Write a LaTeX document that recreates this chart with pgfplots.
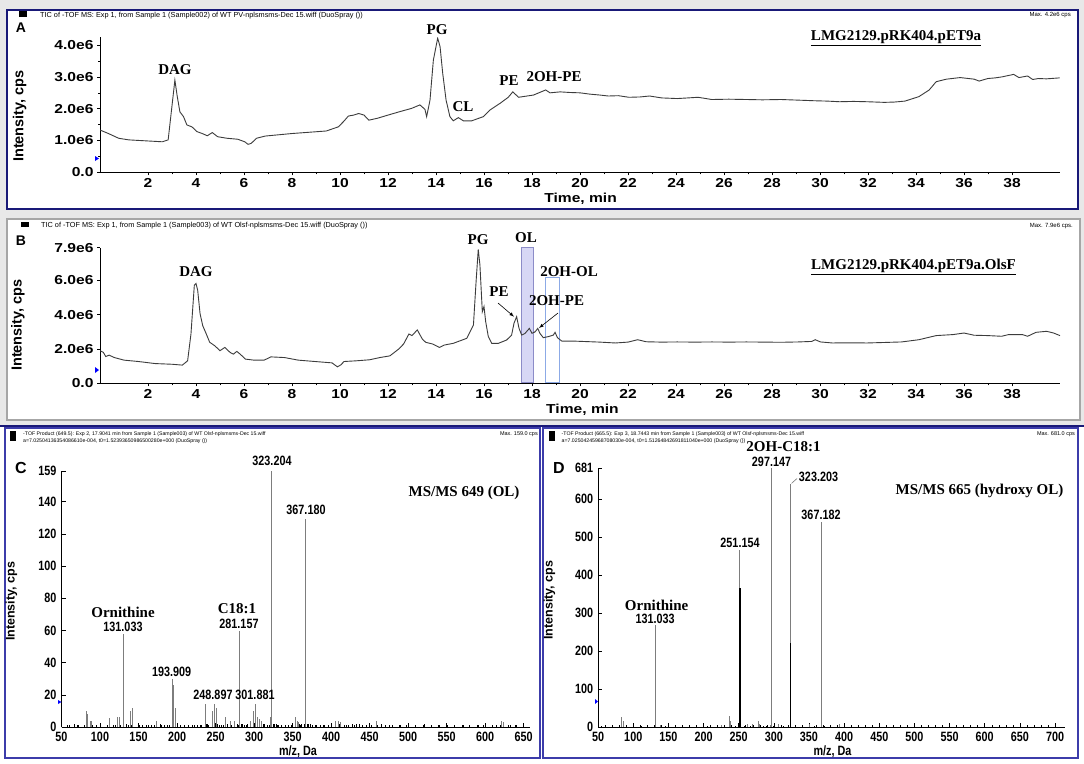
\documentclass[border=0pt]{standalone}
\usepackage{pgfplots}
\pgfplotsset{compat=1.18}
\usepackage{fontspec}
\setmainfont{Liberation Sans}
\newfontfamily\sansw{Liberation Sans}[FakeStretch=1.2]
\newfontfamily\sansn{Liberation Sans}[FakeStretch=0.8]
\newfontfamily\serif{Liberation Serif}

\definecolor{navy}{RGB}{25,25,120}
\definecolor{frameblue}{RGB}{60,60,170}
\definecolor{trace}{RGB}{60,60,60}
\definecolor{stick}{RGB}{125,125,125}
\definecolor{olfill}{RGB}{215,215,245}
\definecolor{olline}{RGB}{140,140,200}
\definecolor{ohline}{RGB}{140,170,230}
\definecolor{chrome}{RGB}{232,232,232}

\newcommand\fAB{\sansw\bfseries\fontsize{13}{13}\selectfont}
\newcommand\fCD{\sansn\bfseries\fontsize{13.5}{13.5}\selectfont}
\newcommand\fYL[1]{\bfseries\fontsize{#1}{#1}\selectfont}
\newcommand\fTB{\serif\bfseries\fontsize{15}{15}\selectfont}
\newcommand\fHd[1]{\fontsize{#1}{#1}\selectfont}

\pgfplotsset{
  chrom/.style={scale only axis, width=960pt, xmin=0, xmax=40,
    axis x line*=bottom, axis y line*=left,
    axis line style={black, line width=1pt},
    tick align=outside, major tick length=3pt, minor tick length=2pt,
    tick style={black, line width=0.6pt},
    xtick={2,4,...,38}, minor x tick num=1, minor y tick num=1,
    tick label style={font=\fAB},
    /pgf/number format/assume math mode=true},
  spec/.style={scale only axis, xmin=50, ymin=0,
    axis x line*=bottom, axis y line*=left,
    axis line style={black, line width=0.8pt},
    tick align=inside, major tick length=4pt, minor tick length=2pt,
    tick style={black, line width=0.5pt},
    minor x tick num=4, minor y tick num=1,
    tick label style={font=\fCD},
    xticklabel style={yshift=-1.5pt},
    yticklabel style={xshift=-1.5pt},
    /pgf/number format/assume math mode=true},
}

\begin{document}
\begin{tikzpicture}
\path[use as bounding box] (0pt,0pt) rectangle (1084pt,-763pt);
% window chrome and panel frames
\fill[chrome] (0pt,0pt) rectangle (1084pt,-426pt);
\fill[white] (0pt,-426pt) rectangle (1084pt,-763pt);
\filldraw[fill=white, draw=navy, line width=2pt] (7pt,-10pt) rectangle (1078pt,-209pt);
\filldraw[fill=white, draw=gray!70, line width=1.2pt] (7pt,-219pt) rectangle (1080pt,-420pt);
\draw[navy, line width=2pt] (0pt,-426pt) -- (1084pt,-426pt);
\draw[frameblue, line width=1.2pt] (5pt,-428pt) rectangle (540pt,-758pt);
\draw[frameblue, line width=1.2pt] (543pt,-428pt) rectangle (1078pt,-758pt);

% ---------------- A ----------------
\begin{axis}[chrom, at={(100pt,-172.3pt)}, anchor=south west,
  height=135.1pt, ymin=0, ymax=4.25,
  ytick={0,1,2,3,4}, yticklabels={0.0,1.0e6,2.0e6,3.0e6,4.0e6}]
\addplot[trace, line width=0.9pt] coordinates {
(0,1.33) (0.35,1.22) (0.78,1.07) (1.2,1.02) (1.9,0.99) (2.6,0.96) (2.84,1.02)
(2.98,1.96) (3.12,2.9) (3.22,2.38) (3.33,1.9) (3.48,1.75) (3.62,1.49) (3.83,1.43)
(4.04,1.28) (4.26,1.22) (4.47,1.15) (4.68,1.25) (4.9,1.12) (5.3,1.07) (5.74,1.04)
(6.03,0.96) (6.17,0.88) (6.3,0.91) (6.52,1.07) (6.88,1.14) (7.3,1.17) (8.0,1.22)
(8.72,1.26) (9.43,1.30) (9.93,1.43) (10.14,1.59) (10.35,1.77) (10.57,1.80)
(10.78,1.85) (11.0,1.80) (11.2,1.64) (11.56,1.70) (12.0,1.80) (12.5,1.91)
(12.98,2.01) (13.33,2.12) (13.54,1.98) (13.61,1.75) (13.75,2.27) (13.89,3.53)
(14.07,4.22) (14.17,3.95) (14.28,3.11) (14.42,2.27) (14.58,1.75) (14.72,1.62)
(14.93,1.72) (15.14,1.62) (15.49,1.62) (15.97,1.75) (16.25,1.96) (16.67,2.17)
(17.01,2.36) (17.2,2.53) (17.44,2.36) (18.06,2.43) (18.57,2.59) (18.75,2.50)
(19.17,2.53) (19.6,2.51) (20.0,2.50) (20.4,2.46) (20.83,2.43) (21.18,2.40)
(21.6,2.41) (22.04,2.36) (22.5,2.37) (22.9,2.40) (23.4,2.34) (24.05,2.32)
(24.5,2.34) (24.92,2.36) (25.49,2.29) (26.2,2.30) (26.93,2.29) (27.6,2.28)
(28.37,2.29) (29.1,2.27) (29.8,2.25) (30.3,2.24) (30.81,2.22) (31.4,2.23)
(31.96,2.22) (32.68,2.20) (33.1,2.21) (33.54,2.24) (34.12,2.38) (34.55,2.59)
(34.84,2.85) (35.27,2.93) (35.84,2.98) (36.42,2.93) (36.63,2.87) (36.99,2.95)
(37.3,2.97) (37.57,3.0) (38.07,3.08) (38.29,2.98) (38.65,3.03) (38.86,2.92)
(39.1,2.95) (39.44,2.94) (39.98,2.97)};
\end{axis}

% ---------------- B ----------------
\begin{axis}[chrom, at={(100pt,-383.3pt)}, anchor=south west,
  height=135.6pt, ymin=0, ymax=7.9,
  ytick={0,2,4,6,7.9}, yticklabels={0.0,2.0e6,4.0e6,6.0e6,7.9e6}]
\fill[olfill] (axis cs:17.57,0.05) rectangle (axis cs:18.05,7.9);
\draw[olline, line width=0.8pt] (axis cs:17.57,0.05) rectangle (axis cs:18.05,7.9);
\draw[ohline, line width=1pt] (axis cs:18.57,0.02) rectangle (axis cs:19.14,6.18);
\addplot[trace, line width=0.9pt] coordinates {
(0,1.9) (0.14,1.8) (0.24,1.56) (0.38,1.64) (0.6,1.5) (1.0,1.35) (1.6,1.27)
(2.3,1.15) (3.0,1.11) (3.43,1.06) (3.65,1.31) (3.79,2.87) (3.93,5.71) (4.0,5.81)
(4.07,5.42) (4.17,4.05) (4.28,3.36) (4.43,2.87) (4.57,2.39) (4.78,2.19) (5.0,1.9)
(5.2,2.09) (5.42,1.8) (5.56,1.70) (5.7,1.86) (5.84,1.70) (6.06,1.41) (6.41,1.35)
(6.84,1.35) (7.12,1.54) (7.69,1.5) (8.26,1.35) (8.96,1.27) (9.67,1.19) (9.89,0.96)
(10.03,1.07) (10.17,1.27) (10.67,1.31) (11.23,1.37) (11.66,1.5) (12.08,1.6)
(12.44,1.99) (12.65,2.29) (12.87,2.87) (13.0,2.78) (13.22,3.11) (13.43,2.58)
(13.57,2.39) (13.86,2.29) (14.14,2.09) (14.35,2.23) (14.72,2.33) (15.28,2.62)
(15.56,3.4) (15.67,5.92) (15.76,7.8) (15.83,6.9) (15.93,4.17) (16.0,4.47)
(16.07,3.59) (16.18,2.72) (16.32,2.33) (16.6,2.33) (16.94,2.52) (17.15,2.81)
(17.25,3.5) (17.36,3.88) (17.46,3.2) (17.57,2.81) (17.71,2.91) (17.89,3.2)
(18.0,2.91) (18.13,3.0) (18.24,3.2) (18.33,2.91) (18.47,2.66) (18.68,2.72)
(18.89,2.81) (18.96,2.97) (19.06,2.66) (19.24,2.46) (19.72,2.46) (20.28,2.43)
(20.83,2.4) (21.47,2.35) (22.0,2.40) (22.4,2.54) (22.76,2.42) (23.4,2.40)
(24.05,2.41) (24.8,2.40) (25.5,2.41) (26.2,2.40) (26.93,2.41) (27.7,2.40)
(28.37,2.39) (29.1,2.41) (29.66,2.44) (29.8,2.54) (30.02,2.41) (30.52,2.35)
(31.2,2.36) (31.96,2.35) (32.7,2.38) (33.4,2.41) (34.12,2.54) (34.84,2.78)
(35.55,2.84) (36.0,2.93) (36.42,2.80) (37.0,2.78) (37.57,2.74) (37.86,2.84)
(38.43,2.84) (38.65,2.74) (39.0,2.97) (39.44,3.03) (39.73,2.93) (40.0,2.78)};
\end{axis}

% ---------------- C ----------------
\begin{axis}[spec, at={(61.5pt,-727pt)}, anchor=south west,
  width=468.2pt, height=256pt, xmax=658, ymax=159,
  xtick={50,100,...,650}, ytick={0,20,...,140,159}]
\addplot[ycomb, black, line width=0.8pt] coordinates {
(58,1) (67,2) (72,1.5) (95,1) (101,1) (118,1.5) (127,1.5) (134,2) (137,1.5) (151,1)
(155,1.5) (163,1) (167,1) (179,2) (183,1) (188,1.5) (200,2) (205,1) (210,1.5)
(215,1) (222,1) (227,1.5) (232,1) (238,2) (240,2) (252,2) (255,1.5) (258,1)
(266,2) (278,2) (283,2) (285,2) (288,1.5) (291,2) (312,2) (314,2) (317,1.5)
(322,3) (325,2) (326,2) (329,2) (332,1.5) (336,1) (341,1) (345,1.5) (349,1)
(359,2) (362,2) (365,2) (369,2) (370,2) (373,2) (376,1.5) (381,1) (386,1.5)
(392,1) (397,1) (411,2) (418,1.5) (423,1) (428,2) (433,2) (437,2) (446,1) (452,1)
(466,2) (471,1.5) (476,1) (489,1) (498,1.5) (510,1.5) (521,2) (530,1) (540,1.5)
(551,1) (560,1) (572,1.5) (580,1) (591,1.5) (598,1) (609,1) (615,1) (633,1.5)
(640,1) (650,2)};
\addplot[ycomb, stick, line width=0.9pt] coordinates {
(81.8,10) (84,8) (87,4) (89.5,4) (112,5.5) (123,6) (125,6) (140,10) (142,12)
(173,4) (195.8,26) (198.5,12) (236.4,14.6) (246,10) (251,12) (263,6) (270,4)
(275,4) (296,4) (299,10) (304,6) (307,5) (310,4) (321,6) (354,6) (356,4)
(358,3) (406,4) (409,4) (412,3) (459,4) (621.6,4) (624,3)};
\addplot[ycomb, stick, line width=1pt] coordinates {
(131.03,58) (193.9,29.6) (248.9,14) (281.16,59.6) (301.3,14.4) (323.2,159)
(367.18,129)};
\end{axis}

% ---------------- D ----------------
\begin{axis}[spec, at={(598.1pt,-727pt)}, anchor=south west,
  width=466.9pt, height=258.7pt, xmax=714.2, ymax=681,
  xtick={50,100,...,700}, ytick={0,100,...,600,681}]
\addplot[ycomb, black, line width=0.7pt] coordinates {
(55,2) (60,2) (70,1) (100,1) (112,2) (145,2) (160,1) (175,1) (190,1) (205,2)
(215,1) (245,2) (258,3) (266,2) (285,3) (290,2) (300,3) (313,2) (330,2) (340,1)
(357,2) (372,2) (380,1) (401,2) (420,1) (450,1) (470,2) (500,1) (530,1) (560,1)
(600,1) (640,1)};
\addplot[ycomb, stick, line width=0.9pt] coordinates {
(83.5,27) (85.5,16) (138,5) (225,5) (236.7,29) (238.8,16) (263,7) (270,9)
(278,16) (280,7) (295,5) (307,9) (350,7) (394,9)};
\addplot[ycomb, stick, line width=1pt] coordinates {
(131.03,268) (251.15,466) (297.15,681) (323.2,641) (367.18,540)};
\addplot[ycomb, black, line width=1.8pt] coordinates {
(251.6,365) (252.5,29) (323.6,222)};
\end{axis}

% ---------------- texts ----------------
% headers
\fill (19pt,-11pt) rectangle (27pt,-17pt);
\fill (21pt,-222pt) rectangle (29pt,-227pt);
\fill (10pt,-431pt) rectangle (16pt,-441pt);
\fill (549pt,-431pt) rectangle (555pt,-441pt);
\node[anchor=west, inner sep=0pt, font=\fHd{7.3}] at (40pt,-15.5pt)
  {TIC of -TOF MS: Exp 1, from Sample 1 (Sample002) of WT PV-nplsmsms-Dec 15.wiff (DuoSpray ())};
\node[anchor=east, inner sep=0pt, font=\fHd{6}] at (1071pt,-15.5pt) {Max. 4.2e6 cps};
\node[anchor=west, inner sep=0pt, font=\fHd{7.3}] at (41pt,-226pt)
  {TIC of -TOF MS: Exp 1, from Sample 1 (Sample003) of WT Olsf-nplsmsms-Dec 15.wiff (DuoSpray ())};
\node[anchor=east, inner sep=0pt, font=\fHd{6}] at (1073pt,-225.6pt) {Max. 7.9e6 cps.};
\node[anchor=west, inner sep=0pt, font=\fHd{5.2}] at (23pt,-434pt)
  {-TOF Product (649.5): Exp 2, 17.9041 min from Sample 1 (Sample003) of WT Olsf-nplsmsms-Dec 15.wiff};
\node[anchor=west, inner sep=0pt, font=\fHd{5.2}] at (23pt,-441pt)
  {a=7.02504136354086610e-004, t0=1.52393650986500280e+000 (DuoSpray ())};
\node[anchor=east, inner sep=0pt, font=\fHd{5.5}] at (538pt,-434pt) {Max. 159.0 cps};
\node[anchor=west, inner sep=0pt, font=\fHd{5.2}] at (561.5pt,-434pt)
  {-TOF Product (665.5): Exp 3, 18.7443 min from Sample 1 (Sample003) of WT Olsf-nplsmsms-Dec 15.wiff};
\node[anchor=west, inner sep=0pt, font=\fHd{5.2}] at (561.5pt,-441pt)
  {a=7.02504245968708030e-004, t0=1.51264842691811040e+000 (DuoSpray ())};
\node[anchor=east, inner sep=0pt, font=\fHd{5.5}] at (1075pt,-434pt) {Max. 681.0 cps};

% panel letters
\node[font=\fYL{14}] at (21pt,-28pt) {A};
\node[font=\fYL{14}] at (21pt,-241pt) {B};
\node[font=\fYL{16}] at (21pt,-468pt) {C};
\node[font=\fYL{16}] at (559pt,-468pt) {D};

% axis titles
\node[rotate=90, font=\fYL{14.5}] at (19.7pt,-116pt) {Intensity, cps};
\node[rotate=90, font=\fYL{14.5}] at (18pt,-325pt) {Intensity, cps};
\node[rotate=90, font=\fYL{12.5}] at (11.5pt,-601.5pt) {Intensity, cps};
\node[rotate=90, font=\fYL{12.5}] at (549.5pt,-600pt) {Intensity, cps};
\node[font=\fAB] at (580.6pt,-199pt) {Time, min};
\node[font=\fAB] at (582.5pt,-410pt) {Time, min};
\node[font=\fCD] at (298pt,-751.5pt) {m/z, Da};
\node[font=\fCD] at (832.5pt,-751.5pt) {m/z, Da};

% blue start markers
\fill[blue] (95pt,-156pt) -- (99pt,-158.5pt) -- (95pt,-161pt) -- cycle;
\fill[blue] (95pt,-367pt) -- (99pt,-370pt) -- (95pt,-373pt) -- cycle;
\fill[blue] (58pt,-700pt) -- (61.5pt,-702pt) -- (58pt,-704pt) -- cycle;
\fill[blue] (595pt,-699pt) -- (598pt,-701.5pt) -- (595pt,-704pt) -- cycle;

% A annotations
\node[font=\fTB] at (175pt,-70pt) {DAG};
\node[font=\fTB] at (437pt,-30pt) {PG};
\node[font=\fTB] at (463pt,-107pt) {CL};
\node[font=\fTB] at (509pt,-80.7pt) {PE};
\node[font=\fTB] at (554pt,-77pt) {2OH-PE};
\node[font=\fTB] at (896pt,-38.3pt) {\underline{LMG2129.pRK404.pET9a}};

% B annotations
\node[font=\fTB] at (196pt,-271.7pt) {DAG};
\node[font=\fTB] at (478pt,-240pt) {PG};
\node[font=\fTB] at (526pt,-237.7pt) {OL};
\node[font=\fTB] at (569pt,-271.7pt) {2OH-OL};
\node[font=\fTB] at (499pt,-291.7pt) {PE};
\node[font=\fTB] at (556.5pt,-301pt) {2OH-PE};
\node[font=\fTB] at (913.5pt,-267pt) {\underline{LMG2129.pRK404.pET9a.OlsF}};
\draw[-latex, line width=0.6pt] (498pt,-303pt) -- (514pt,-316.7pt);
\draw[-latex, line width=0.6pt] (558pt,-313pt) -- (539pt,-328pt);

% C annotations
\node[font=\fTB] at (464pt,-493pt) {MS/MS 649 (OL)};
\node[font=\fCD] at (272pt,-461pt) {323.204};
\node[font=\fCD] at (306pt,-510pt) {367.180};
\node[font=\fTB] at (123pt,-612.5pt) {Ornithine};
\node[font=\fCD] at (123pt,-626.5pt) {131.033};
\node[font=\fTB] at (237pt,-609pt) {C18:1};
\node[font=\fCD] at (239pt,-623.5pt) {281.157};
\node[font=\fCD] at (171.7pt,-671.7pt) {193.909};
\node[font=\fCD] at (213pt,-695pt) {248.897};
\node[font=\fCD] at (255pt,-695pt) {301.881};

% D annotations
\node[font=\fTB] at (783.5pt,-447pt) {2OH-C18:1};
\node[font=\fCD] at (771.5pt,-461.5pt) {297.147};
\node[font=\fCD] at (818.5pt,-476.7pt) {323.203};
\draw[stick, line width=0.6pt] (791.5pt,-483.4pt) -- (797pt,-478.5pt);
\node[font=\fTB] at (979.5pt,-490.7pt) {MS/MS 665 (hydroxy OL)};
\node[font=\fCD] at (821pt,-515pt) {367.182};
\node[font=\fCD] at (740pt,-542.7pt) {251.154};
\node[font=\fTB] at (656.6pt,-605.5pt) {Ornithine};
\node[font=\fCD] at (655.2pt,-619pt) {131.033};
\end{tikzpicture}
\end{document}
